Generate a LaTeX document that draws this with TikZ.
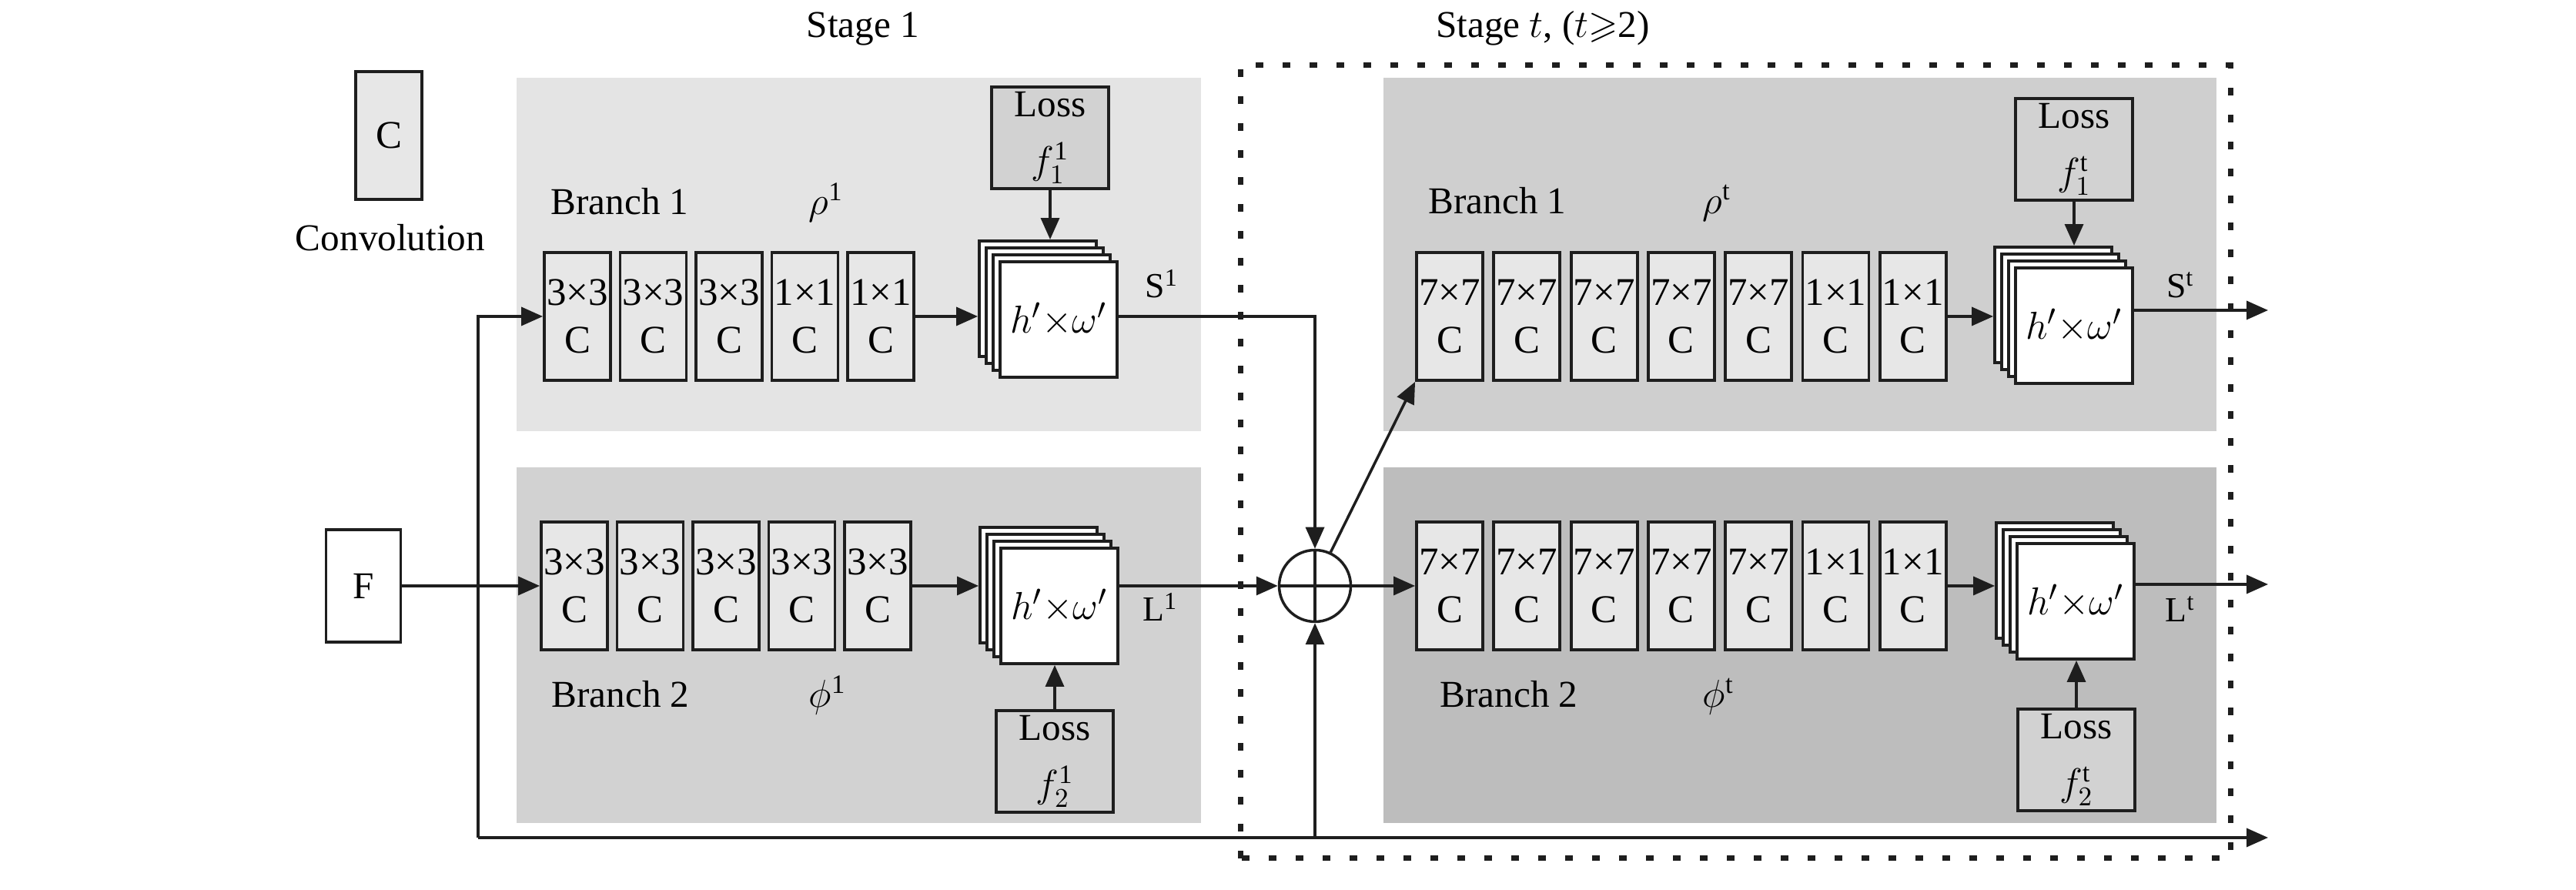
\documentclass[tikz,border=0pt]{standalone}
\usepackage{amsmath}
\usepackage{amssymb}
\usepackage{fontspec}
\setmainfont{Liberation Serif}
\usepackage{tikz}
\usetikzlibrary{arrows.meta, positioning, calc}
\definecolor{mydark}{RGB}{30,30,30}
\definecolor{panelone}{RGB}{228,228,228}
\definecolor{paneltwo}{RGB}{210,210,210}
\definecolor{panelthree}{RGB}{207,207,207}
\definecolor{panelfour}{RGB}{189,189,189}
\definecolor{convgray}{RGB}{231,231,231}
\definecolor{lossgray}{RGB}{210,210,210}
\tikzset{
  conv/.style={rectangle, draw=mydark, fill=convgray, line width=1.1pt,
    minimum width=0.86cm, minimum height=1.66cm, inner sep=0pt,
    align=center, font=\fontsize{14.5}{17.5}\selectfont},
  loss/.style={rectangle, draw=mydark, fill=lossgray, line width=1.1pt,
    minimum width=1.52cm, minimum height=1.32cm, inner sep=0pt,
    align=center, font=\fontsize{14}{21}\selectfont},
  fmap/.style={rectangle, draw=mydark, fill=white, line width=1.1pt,
    minimum width=1.52cm, minimum height=1.5cm, inner sep=0pt,
    font=\fontsize{15}{17}\selectfont},
  stagebox/.style={draw=mydark, line width=2pt, dash pattern=on 1mm off 2.5mm},
  arrow/.style={-{Triangle[length=2.8mm,width=2.4mm]}, line width=1pt, color=mydark},
  line/.style={line width=1pt, color=mydark},
  lbl/.style={anchor=base, inner sep=0pt},
  outlbl/.style={anchor=base, inner sep=0pt, font=\fontsize{13}{15}\selectfont}
}
% stack of feature maps: name, x, y of the front sheet
\newcommand{\fmapstack}[3]{%
  \foreach \k/\d in {3/0.27, 2/0.18, 1/0.09}
    \node[fmap] (#1-\k) at ({#2-\d},{#3+\d}) {};
  \node[fmap] (#1) at (#2,#3) {$h'{\times}\omega'$};
}

\begin{document}
\begin{tikzpicture}[font=\fontsize{14}{17}\selectfont]
  \useasboundingbox (0,0) rectangle (33.46,11.56);

  % branch panels
  \fill[panelone] (6.71,5.96) rectangle (15.60,10.55);
  \fill[paneltwo] (6.71,0.87) rectangle (15.60,5.49);
  \fill[panelthree] (17.97,5.96) rectangle (28.79,10.55);
  \fill[panelfour] (17.97,0.87) rectangle (28.79,5.49);
  \draw[stagebox] (16.11,0.41) rectangle (28.97,10.71);

  \node[lbl] (stone) at (11.21,11.07) {Stage 1};
  \node[lbl] (sttwo) at (20.04,11.07) {Stage $t$, ($t{\geqslant}$2)};

  % legend and input
  \node[conv] (key) at (5.05,9.80) {C};
  \node[lbl] (keytxt) at (5.07,8.30) {Convolution};
  \node[rectangle, draw=mydark, fill=white, line width=1.1pt,
    minimum width=0.97cm, minimum height=1.46cm] (F) at (4.72,3.95) {F};

  % stage 1
  \foreach \i/\k in {1/3,2/3,3/3,4/1,5/1}
    \node[conv] (a\i) at ({7.50+0.985*(\i-1)},7.45) {\k×\k\\C};
  \foreach \i in {1,...,5}
    \node[conv] (b\i) at ({7.46+0.985*(\i-1)},3.95) {3×3\\C};
  \fmapstack{sa}{13.75}{7.41}
  \fmapstack{sb}{13.76}{3.69}
  \node[loss] (la) at (13.64,9.77) {Loss\\$f_1^{\mathrm{1}}$};
  \node[loss] (lb) at (13.70,1.67) {Loss\\$f_2^{\mathrm{1}}$};
  \node[lbl] (bra) at (8.05,8.77) {Branch 1};
  \node[lbl] (rhoa) at (10.73,8.77) {$\rho^{\mathrm{1}}$};
  \node[lbl] (brb) at (8.06,2.37) {Branch 2};
  \node[lbl] (phib) at (10.75,2.37) {$\phi^{\mathrm{1}}$};

  % stage t
  \foreach \i/\k in {1/7,2/7,3/7,4/7,5/7,6/1,7/1}
    \node[conv] (c\i) at ({18.83+1.003*(\i-1)},7.45) {\k×\k\\C};
  \foreach \i/\k in {1/7,2/7,3/7,4/7,5/7,6/1,7/1}
    \node[conv] (d\i) at ({18.83+1.003*(\i-1)},3.95) {\k×\k\\C};
  \fmapstack{sc}{26.94}{7.33}
  \fmapstack{sd}{26.96}{3.75}
  \node[loss] (lc) at (26.94,9.62) {Loss\\$f_1^{\mathrm{t}}$};
  \node[loss] (ld) at (26.97,1.69) {Loss\\$f_2^{\mathrm{t}}$};
  \node[lbl] (brc) at (19.45,8.78) {Branch 1};
  \node[lbl] (rhoc) at (22.30,8.78) {$\rho^{\mathrm{t}}$};
  \node[lbl] (brd) at (19.60,2.37) {Branch 2};
  \node[lbl] (phid) at (22.32,2.37) {$\phi^{\mathrm{t}}$};

  % fusion
  \node[circle, draw=mydark, line width=1pt, minimum size=0.93cm, inner sep=0pt] (plus) at (17.08,3.95) {};
  \draw[line] (plus.north) -- (plus.south) (plus.west) -- (plus.east);

  \coordinate (split) at (6.21,0.68);
  \coordinate (outS) at (29.46,7.53);
  \coordinate (outL) at (29.46,3.97);
  \coordinate (outF) at (29.46,0.68);

  % connectors
  \draw[arrow] (split) |- (a1.west);
  \draw[arrow] (F.east) -- (b1.west);
  \draw[arrow] (split) -- (outF);
  \draw[arrow] (split -| plus) -- (plus.south);
  \draw[arrow] (a5.east) -- (a5.east -| sa-3.west);
  \draw[arrow] (b5.east) -- (b5.east -| sb-3.west);
  \draw[arrow] (la.south) -- (la.south |- sa-3.north);
  \draw[arrow] (lb.north) -- (lb.north |- sb.south);
  \draw[arrow] (sa.east |- a5.east) -| (plus.north);
  \draw[arrow] (sb.east |- plus) -- (plus.west);
  \draw[arrow] (plus.east) -- (d1.west);
  \draw[arrow] (plus.65) -- (c1.south west);
  \draw[arrow] (c7.east) -- (c7.east -| sc-3.west);
  \draw[arrow] (d7.east) -- (d7.east -| sd-3.west);
  \draw[arrow] (lc.south) -- (lc.south |- sc-3.north);
  \draw[arrow] (ld.north) -- (ld.north |- sd.south);
  \draw[arrow] (sc.east |- outS) -- (outS);
  \draw[arrow] (sd.east |- outL) -- (outL);

  \node[outlbl] (sone) at (15.09,7.69) {S$^{\mathrm{1}}$};
  \node[outlbl] (lone) at (15.07,3.49) {L$^{\mathrm{1}}$};
  \node[outlbl] (stt) at (28.32,7.69) {S$^{\mathrm{t}}$};
  \node[outlbl] (ltt) at (28.32,3.48) {L$^{\mathrm{t}}$};
\end{tikzpicture}
\end{document}
